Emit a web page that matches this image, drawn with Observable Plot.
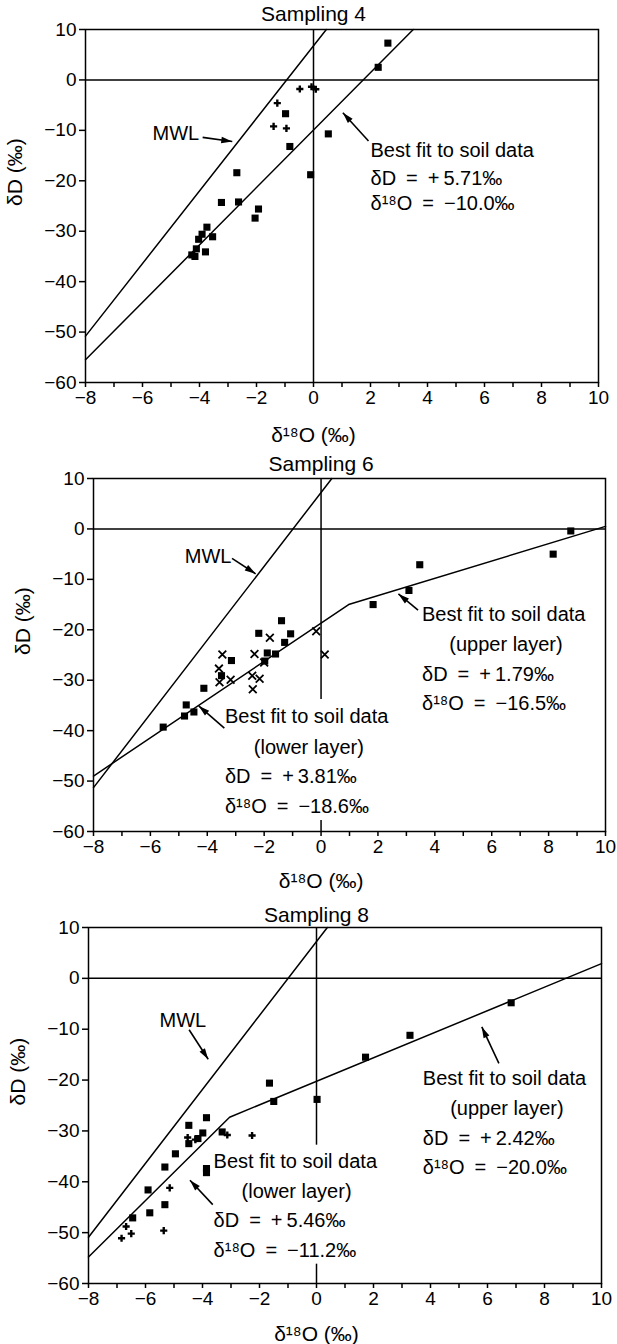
<!DOCTYPE html>
<html>
<head>
<meta charset="utf-8">
<script src="https://cdn.jsdelivr.net/npm/d3@7"></script>
<script src="https://cdn.jsdelivr.net/npm/@observablehq/plot@0.6"></script>
<style>
  html, body { margin: 0; padding: 0; background: #fff; }
  #chart svg { display: block; }
</style>
</head>
<body>
<div id="chart"></div>
<script>
// ---------- shared axis data ----------
const xTicks = [-8, -6, -4, -2, 0, 2, 4, 6, 8, 10];
const xMinorTicks = [-7, -5, -3, -1, 1, 3, 5, 7, 9];
const yTicks = [10, 0, -10, -20, -30, -40, -50, -60];
const panelTitles = ["Sampling 4", "Sampling 6", "Sampling 8"];
const xLabel = "δ¹⁸O (‰)";
const yLabel = "δD (‰)";

// ---------- Sampling 4 ----------
const s4Squares = [[2.61,7.3],[2.27,2.5],[-0.98,-6.7],[0.52,-10.7],[-0.83,-13.2],[-2.69,-18.4],[-0.1,-18.8],
  [-3.23,-24.3],[-2.63,-24.2],[-1.93,-25.6],[-2.05,-27.4],[-3.74,-29.2],[-3.91,-30.6],[-3.54,-31.1],
  [-4.03,-31.6],[-4.11,-33.5],[-3.79,-34.1],[-4.27,-34.7],[-4.16,-35.0]];
const s4Plus = [[-0.48,-1.8],[-0.07,-1.35],[0.08,-1.85],[-1.27,-4.6],[-1.4,-9.2],[-0.95,-9.6]];
const s4MWL = [[-8,-50.8],[0.45,10]];
const s4Fit = [[-8,-55.5],[3.5,10]];
const s4ZeroX = [[-60,10]];
const s4Labels = [
  {x:-5.65, y:-10.7, text:"MWL"},
  {x:2.0, y:-14.0, text:"Best fit to soil data"},
  {x:2.0, y:-19.5, text:"δD\u2002=\u2002+\u20095.71‰"},
  {x:2.0, y:-24.5, text:"δ¹⁸O\u2002=\u2002−10.0‰"}
];
const s4CenterLabels = [];
const s4Arrows = [[-3.89,-11.4,-2.85,-12.2],[1.93,-12.1,1.03,-6.5]];

// ---------- Sampling 6 ----------
const s6Squares = [[8.78,-0.4],[8.16,-5.0],[3.47,-7.1],[3.09,-12.2],[1.83,-15.0],[-1.39,-18.2],[-2.19,-20.7],
  [-1.07,-20.8],[-1.28,-22.5],[-1.89,-24.6],[-1.6,-24.8],[-3.15,-26.1],[-3.5,-29.1],[-4.12,-31.6],
  [-4.74,-34.9],[-4.8,-37.1],[-4.47,-36.3],[-5.55,-39.3],[-1.98,-26.2]];
const s6Times = [[-0.17,-20.3],[0.13,-24.9],[-1.8,-21.6],[-2.34,-24.8],[-3.47,-24.9],[-3.59,-27.7],
  [-3.57,-30.4],[-3.18,-29.9],[-2.42,-29.1],[-2.16,-29.7],[-2.4,-31.8],[-2.0,-26.5]];
const s6MWL = [[-8,-51.3],[0.38,10]];
const s6Fit = [[-8,-49.0],[0.97,-15.0],[10,0.5]];
const s6ZeroX = [[-33.8,10],[-60,-57.8]];
const s6Labels = [
  {x:-4.79, y:-5.4, text:"MWL"},
  {x:3.55, y:-16.9, text:"Best fit to soil data"},
  {x:3.55, y:-28.8, text:"δD\u2002=\u2002+\u20091.79‰"},
  {x:3.55, y:-34.7, text:"δ¹⁸O\u2002=\u2002−16.5‰"},
  {x:-3.38, y:-37.3, text:"Best fit to soil data"},
  {x:-3.38, y:-49.2, text:"δD\u2002=\u2002+\u20093.81‰"},
  {x:-3.38, y:-55.0, text:"δ¹⁸O\u2002=\u2002−18.6‰"}
];
const s6CenterLabels = [
  {x:6.5, y:-23.0, text:"(upper layer)"},
  {x:-0.43, y:-43.3, text:"(lower layer)"}
];
const s6Arrows = [[-3.13,-5.85,-2.3,-8.9],[3.41,-16.1,2.72,-12.9],[-3.4,-39.5,-4.3,-35.1]];

// ---------- Sampling 8 ----------
const s8Squares = [[6.83,-4.8],[3.28,-11.2],[1.72,-15.5],[-1.65,-20.6],[-1.5,-24.2],[0.02,-23.8],
  [-3.86,-27.4],[-4.48,-28.9],[-3.99,-30.4],[-4.16,-31.5],[-4.48,-32.5],[-3.31,-30.2],[-4.95,-34.5],
  [-5.32,-37.1],[-3.86,-37.4],[-3.86,-38.2],[-5.91,-41.6],[-5.32,-44.5],[-5.85,-46.1],[-6.45,-47.1]];
const s8Plus = [[-3.13,-30.8],[-2.26,-30.9],[-4.52,-31.3],[-4.25,-31.7],[-5.15,-41.2],[-5.36,-49.6],
  [-6.68,-48.8],[-6.5,-50.2],[-6.84,-51.1]];
const s8MWL = [[-8,-50.9],[0.38,10]];
const s8Fit = [[-8,-54.8],[-3.05,-27.3],[10,2.9]];
const s8ZeroX = [[-32.8,10],[-60,-56.2]];
const s8Labels = [
  {x:-5.51, y:-8.3, text:"MWL"},
  {x:3.73, y:-19.8, text:"Best fit to soil data"},
  {x:3.73, y:-31.5, text:"δD\u2002=\u2002+\u20092.42‰"},
  {x:3.73, y:-37.3, text:"δ¹⁸O\u2002=\u2002−20.0‰"},
  {x:-3.61, y:-36.1, text:"Best fit to soil data"},
  {x:-3.61, y:-47.7, text:"δD\u2002=\u2002+\u20095.46‰"},
  {x:-3.61, y:-53.5, text:"δ¹⁸O\u2002=\u2002−11.2‰"}
];
const s8CenterLabels = [
  {x:6.68, y:-25.7, text:"(upper layer)"},
  {x:-0.7, y:-41.9, text:"(lower layer)"}
];
const s8Arrows = [[-4.47,-10.1,-3.8,-15.9],[6.4,-16.7,5.8,-9.55],[-3.64,-44.5,-4.44,-39.7]];

// ---------- rendering ----------
const FONT = '"Liberation Sans", Arial, Helvetica, sans-serif';
const fmt = d => (d < 0 ? "\u2212" + Math.abs(d) : String(d));
const px = d => d[0], py = d => d[1];

const panels = [
  {title: panelTitles[0], squares: s4Squares, plus: s4Plus, times: [], mwl: s4MWL, fit: s4Fit, zeroX: s4ZeroX,
   labels: s4Labels, center: s4CenterLabels, arrows: s4Arrows,
   layout: {height: 450, top: 29, bottom: 68, left: 85, right: 19, titleDy: -15, xLabDy: 53}},
  {title: panelTitles[1], squares: s6Squares, plus: [], times: s6Times, mwl: s6MWL, fit: s6Fit, zeroX: s6ZeroX,
   labels: s6Labels, center: s6CenterLabels, arrows: s6Arrows,
   layout: {height: 450, top: 28, bottom: 69, left: 93, right: 12, titleDy: -14, xLabDy: 50}},
  {title: panelTitles[2], squares: s8Squares, plus: s8Plus, times: [], mwl: s8MWL, fit: s8Fit, zeroX: s8ZeroX,
   labels: s8Labels, center: s8CenterLabels, arrows: s8Arrows,
   layout: {height: 444, top: 27, bottom: 61, left: 88, right: 16, titleDy: -12.5, xLabDy: 51}}
];

const chart = document.getElementById("chart");
for (const p of panels) {
  const L = p.layout;
  const svg = Plot.plot({
    width: 617,
    height: L.height,
    marginTop: L.top, marginBottom: L.bottom, marginLeft: L.left, marginRight: L.right,
    style: {fontFamily: FONT, fontSize: "19px", background: "white", color: "black"},
    x: {domain: [-8, 10], axis: null},
    y: {domain: [-60, 10], axis: null},
    marks: [
      Plot.frame({stroke: "black", strokeWidth: 1.5}),
      Plot.ruleY([0], {stroke: "black", strokeWidth: 1.5}),
      Plot.ruleX(p.zeroX, {x: () => 0, y1: d => d[0], y2: d => d[1], stroke: "black", strokeWidth: 1.5}),
      Plot.line(p.mwl, {x: px, y: py, stroke: "black", strokeWidth: 1.5}),
      Plot.line(p.fit, {x: px, y: py, stroke: "black", strokeWidth: 1.5}),
      Plot.dot(p.squares, {x: px, y: py, symbol: "square", r: 4, fill: "black", stroke: null}),
      Plot.dot(p.plus, {x: px, y: py, symbol: "cross", r: 3, fill: "black", stroke: null}),
      Plot.dot(p.times, {x: px, y: py, symbol: "times", r: 3.6, stroke: "black", strokeWidth: 1.8, fill: null}),
      Plot.link(p.arrows, {x1: d => d[0], y1: d => d[1], x2: d => d[2], y2: d => d[3],
        stroke: "black", strokeWidth: 1.6, markerEnd: "arrow"}),
      Plot.text(p.labels, {x: "x", y: "y", text: "text", textAnchor: "start", lineAnchor: "middle", fontSize: 20, fill: "black"}),
      Plot.text(p.center, {x: "x", y: "y", text: "text", textAnchor: "middle", lineAnchor: "middle", fontSize: 20, fill: "black"}),
      Plot.axisY({ticks: yTicks, tickFormat: fmt, tickSize: 6, tickPadding: 3, fontSize: 19, label: null, strokeWidth: 1.5}),
      Plot.axisX({ticks: xTicks, tickFormat: fmt, tickSize: 5, tickPadding: 3, fontSize: 19, label: null, strokeWidth: 1.5}),
      Plot.axisX({ticks: xMinorTicks, tickFormat: () => "", tickSize: 5, label: null, strokeWidth: 1.5}),
      Plot.text([{x: 0, text: p.title}], {x: "x", text: "text", frameAnchor: "top", dy: L.titleDy,
        lineAnchor: "middle", fontSize: 21, fill: "black"}),
      Plot.text([{x: 0, text: xLabel}], {x: "x", text: "text", frameAnchor: "bottom", dy: L.xLabDy,
        lineAnchor: "middle", fontSize: 21, fill: "black"}),
      Plot.text([{text: yLabel}], {text: "text", frameAnchor: "left", dx: -70, rotate: -90,
        lineAnchor: "middle", fontSize: 21, fill: "black"})
    ]
  });
  // filled arrowheads, as in the original figure
  svg.querySelectorAll("marker").forEach(m => {
    m.setAttribute("viewBox", "-12 -6 12 12");
    m.setAttribute("markerUnits", "userSpaceOnUse");
    m.setAttribute("markerWidth", "12");
    m.setAttribute("markerHeight", "12");
    m.setAttribute("refX", "0");
    m.setAttribute("refY", "0");
    m.setAttribute("fill", "black");
    m.setAttribute("stroke", "none");
    m.style.overflow = "visible";
    const path = m.querySelector("path");
    if (path) {
      path.setAttribute("d", "M-11,-3.2L0,0L-11,3.2Z");
      path.setAttribute("fill", "black");
      path.setAttribute("stroke", "none");
    }
  });
  chart.appendChild(svg);
}
</script>
</body>
</html>
